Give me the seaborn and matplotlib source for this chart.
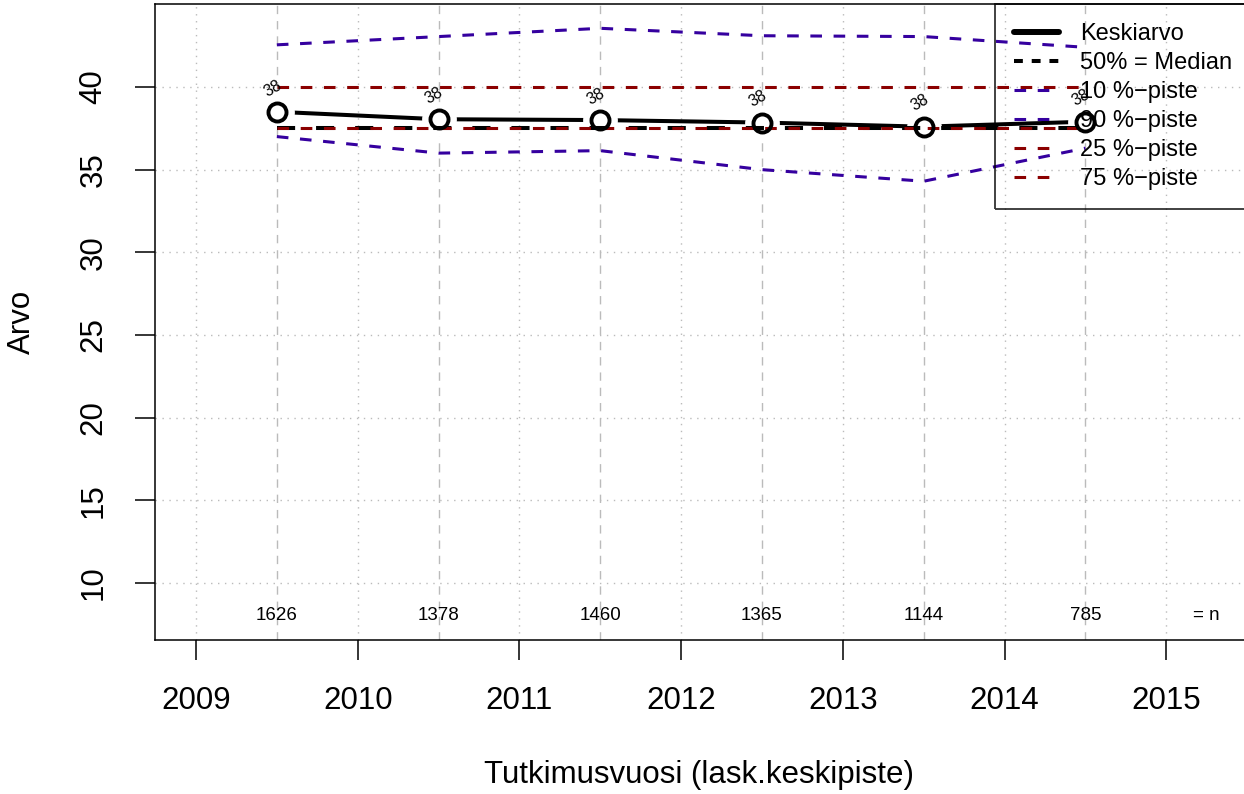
import pandas as pd
import matplotlib
matplotlib.use("Agg")
import matplotlib.pyplot as plt
from matplotlib.lines import Line2D
import seaborn as sns

sns.set_style("white")
plt.rcParams['font.family'] = ['Liberation Sans', 'DejaVu Sans']
plt.rcParams['text.color'] = 'black'
plt.rcParams['axes.labelcolor'] = 'black'
plt.rcParams['xtick.color'] = 'black'
plt.rcParams['ytick.color'] = 'black'

years = [2009.5, 2010.5, 2011.5, 2012.5, 2013.5, 2014.5]
mean = [38.5, 38.05, 38.0, 37.85, 37.6, 37.9]
median = [37.5, 37.5, 37.5, 37.5, 37.5, 37.5]
p10 = [37.0, 36.0, 36.15, 35.0, 34.3, 36.3]
p90 = [42.55, 43.05, 43.55, 43.1, 43.05, 42.4]
p25 = [37.5, 37.5, 37.5, 37.5, 37.5, 37.5]
p75 = [40.0, 40.0, 40.0, 40.0, 40.0, 40.0]
mean_labels = ["38", "38", "38", "38", "38", "38"]
n_counts = [1626, 1378, 1460, 1365, 1144, 785]
year_ticks = [2009, 2010, 2011, 2012, 2013, 2014, 2015]
y_ticks = [10, 15, 20, 25, 30, 35, 40]

df = pd.DataFrame({"year": years, "mean": mean, "median": median,
                   "p10": p10, "p90": p90, "p25": p25, "p75": p75})

blue = "#35009F"
red = "#8B0000"

fig = plt.figure(figsize=(12.44, 7.94), dpi=100)
ax = fig.add_axes([155/1244, 154/794, 1091/1244, 636/794])
ax.set_xlim(2008.7465, 2015.493)
ax.set_ylim(6.55, 45.02)

# grid: dotted at ticks, dashed at data years
for yy in y_ticks:
    ax.axhline(yy, color="#BBBBBB", lw=1.0, ls=(0, (1, 4)), zorder=0.5)
for xx in year_ticks:
    ax.axvline(xx, color="#BBBBBB", lw=1.0, ls=(0, (1, 4)), zorder=0.5)
for xx in years:
    ax.axvline(xx, color="#BBBBBB", lw=1.0, ls=(0, (6, 5)), zorder=0.5)

# mean line with gaps around points (R type="b")
sns.lineplot(data=df, x="year", y="mean", color="black", lw=2.9, ax=ax, zorder=1)
ax.plot(df["year"], df["mean"], ls="none", marker="o", ms=24, mfc="white",
        mec="white", zorder=1.5)
ax.plot(df["year"], df["mean"], ls="none", marker="o", ms=13, mfc="none",
        mec="black", mew=2.8, zorder=3)

sns.lineplot(data=df, x="year", y="median", color="black", lw=2.9,
             ax=ax, zorder=2).lines[-1].set_dashes((4.5, 5.2))
sns.lineplot(data=df, x="year", y="p10", color=blue, lw=2.2, ax=ax,
             zorder=2).lines[-1].set_dashes((3.8, 3.8))
sns.lineplot(data=df, x="year", y="p90", color=blue, lw=2.2, ax=ax,
             zorder=2).lines[-1].set_dashes((3.8, 3.8))
sns.lineplot(data=df, x="year", y="p25", color=red, lw=2.2, ax=ax,
             zorder=2.5).lines[-1].set_dashes((3.8, 3.8))
sns.lineplot(data=df, x="year", y="p75", color=red, lw=2.2, ax=ax,
             zorder=2.5).lines[-1].set_dashes((3.8, 3.8))

for xx, yy, lab in zip(years, mean, mean_labels):
    ax.annotate(lab, (xx, yy), xytext=(-3, 17), textcoords="offset points",
                ha="center", va="center", rotation=30, fontsize=11.5, zorder=4)

for xx, nn in zip(years, n_counts):
    ax.text(xx, 8.05, str(nn), ha="center", va="center", fontsize=13.5)
ax.text(2015.25, 8.05, "= n", ha="center", va="center", fontsize=13.5)

ax.set_xticks(year_ticks)
ax.set_xticklabels([str(y) for y in year_ticks], fontsize=22.5)
ax.set_yticks(y_ticks)
ax.set_yticklabels([str(y) for y in y_ticks], fontsize=22.5, rotation=90,
                   va="center")
ax.tick_params(axis="both", direction="out", length=14.4, width=1.1,
               color="black", pad=19, left=True, bottom=True)
for side in ["left", "bottom", "top"]:
    ax.spines[side].set_color("black")
    ax.spines[side].set_linewidth(1.1)
ax.spines["right"].set_visible(False)

ax.set_xlabel("Tutkimusvuosi (lask.keskipiste)", fontsize=22.5, va="center")
ax.set_ylabel("Arvo", fontsize=22.5, va="center")
ax.xaxis.set_label_coords((699-155)/1091, -(775-640)/636)
ax.yaxis.set_label_coords(-(155-22)/1091, 0.5)

handles = [
    Line2D([], [], color="black", lw=4.3),
    Line2D([], [], color="black", lw=2.9, dashes=(2.2, 2.2)),
    Line2D([], [], color=blue, lw=2.2, dashes=(3.8, 3.8)),
    Line2D([], [], color=blue, lw=2.2, dashes=(3.8, 3.8)),
    Line2D([], [], color=red, lw=2.2, dashes=(3.8, 3.8)),
    Line2D([], [], color=red, lw=2.2, dashes=(3.8, 3.8)),
]
labels = ["Keskiarvo", "50% = Median", "10 %\u2212piste", "90 %\u2212piste",
          "25 %\u2212piste", "75 %\u2212piste"]
leg = fig.legend(handles, labels, loc="upper left",
                 bbox_to_anchor=(995/1244, 1 - 4/794), bbox_transform=fig.transFigure,
                 fontsize=17, frameon=True, fancybox=False, borderaxespad=0,
                 borderpad=0.8, handlelength=1.9, handletextpad=0.9,
                 labelspacing=0.3)
leg.get_frame().set_edgecolor("black")
leg.get_frame().set_facecolor("none")
leg.get_frame().set_linewidth(1.3)
leg.set_zorder(10)

fig.savefig("out.png", dpi=100)
